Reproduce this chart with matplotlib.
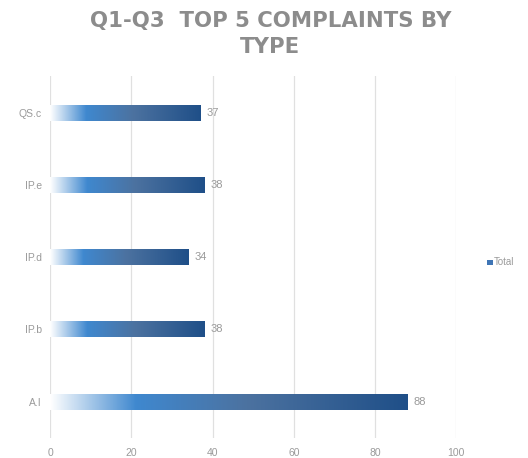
import matplotlib
import matplotlib.pyplot as plt
import numpy as np
from matplotlib.colors import LinearSegmentedColormap
from matplotlib.patches import Rectangle

matplotlib.rc('font', family='Liberation Sans')

categories = ['A.I', 'IP.b', 'IP.d', 'IP.e', 'QS.c']
totals = [88, 38, 34, 38, 37]
xticks = [0, 20, 40, 60, 80, 100]
title_lines = ['Q1-Q3  TOP 5 COMPLAINTS BY', 'TYPE']

grey = '#8c8c8c'
light_grey = '#9a9a9a'
bar_height = 0.22

# white -> bright blue -> steel -> navy, stretched along each bar
cmap = LinearSegmentedColormap.from_list('bar', [
    (0.0, '#ffffff'),
    (0.24, '#3f88cf'),
    (0.55, '#4c72a0'),
    (1.0, '#1f4f88'),
])
grad = np.linspace(0, 1, 256).reshape(1, -1)

fig = plt.figure(figsize=(5.28, 4.58), dpi=100)
ax = fig.add_axes([0.095, 0.044, 0.769, 0.789])

y = np.arange(len(categories))
for yi, val in zip(y, totals):
    extent = [0, val, yi - bar_height / 2, yi + bar_height / 2]
    im = ax.imshow(grad, cmap=cmap, aspect='auto', extent=extent, zorder=3)
    rect = Rectangle((0, yi - bar_height / 2), val, bar_height,
                     facecolor='none', edgecolor='none', zorder=3)
    ax.add_patch(rect)
    im.set_clip_path(rect)
    ax.text(val + 1.5, yi, str(val), va='center', ha='left',
            fontsize=8, color=light_grey)

ax.set_xlim(0, 100)
ax.set_ylim(-0.5, len(categories) - 0.5)
ax.set_yticks(y, labels=categories)
ax.set_xticks(xticks)
ax.tick_params(axis='both', length=0, labelsize=7.5, labelcolor=light_grey)
ax.tick_params(axis='y', pad=6)
ax.tick_params(axis='x', pad=7)
ax.grid(axis='x', color='#e0e0e0', linewidth=0.9, zorder=0)
ax.set_axisbelow(True)
for s in ax.spines.values():
    s.set_visible(False)

# two-line title, bold and widely set
for line, yb in zip(title_lines, [0.941, 0.884]):
    fig.text(0.512, yb, line, ha='center', va='baseline', fontsize=15.3,
             fontweight='bold', color=grey, family='DejaVu Sans')

# legend entry
fig.patches.append(Rectangle((0.923, 0.421), 0.01, 0.012, transform=fig.transFigure,
                             facecolor='#3f75b5', edgecolor='none'))
fig.text(0.936, 0.427, 'Total', ha='left', va='center', fontsize=7, color=light_grey)

plt.savefig('out.png')
